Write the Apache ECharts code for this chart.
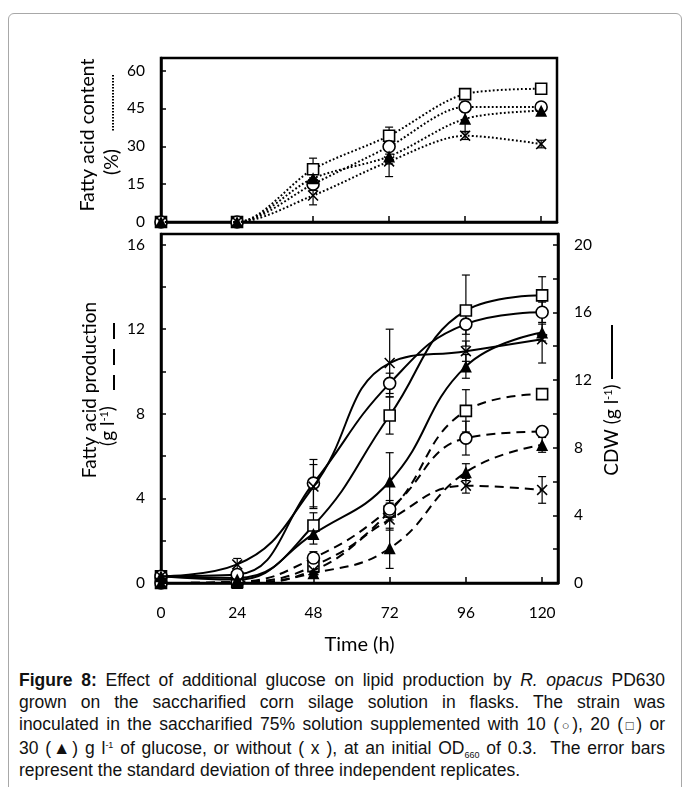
<!DOCTYPE html>
<html>
<head>
<meta charset="utf-8">
<script src="https://cdn.jsdelivr.net/npm/echarts@6/dist/echarts.min.js"></script>
<style>
  html, body { margin:0; padding:0; background:#fff; width:683px; height:787px; overflow:hidden; }
  #frame { position:absolute; left:8px; top:13px; width:674px; height:820px; box-sizing:border-box;
           border:1px solid #a8a8a8; border-radius:6px; }
  #chart { position:absolute; left:0; top:0; width:683px; height:660px; }
  #cap { position:absolute; left:19px; top:669px; width:646px; font-family:'Liberation Sans', Arial, sans-serif;
         font-size:17.5px; line-height:22px; color:#111; }
  #cap .j { text-align:justify; text-align-last:justify; }
  #cap sup, #cap sub { font-size:9px; line-height:0; }
  #cap sup { vertical-align:6px; }
  #cap sub { vertical-align:-4px; }
  #cap .sm { font-size:13px; }
</style>
</head>
<body>
<div id="frame"></div>
<div id="chart"></div>
<div id="cap">
  <div class="j"><b>Figure 8:</b> Effect of additional glucose on lipid production by <i>R. opacus</i> PD630</div>
  <div class="j">grown on the saccharified corn silage solution in flasks. The strain was</div>
  <div class="j">inoculated in the saccharified 75% solution supplemented with 10 (<span class="sm">○</span>), 20 (<span class="sm">□</span>) or</div>
  <div class="j">30 (▲) g l<sup>-1</sup> of glucose, or without ( x ), at an initial OD<sub>660</sub> of 0.3.&nbsp; The error bars</div>
  <div>represent the standard deviation of three independent replicates.</div>
</div>
<script>
// ---------------- data ----------------
const times = [0, 24, 48, 72, 96, 120];
const xTicks = [0, 24, 48, 72, 96, 120];

// Fatty acid content (%) – top panel
const content10 = [0, 0, 15.0, 29.9, 45.6, 45.6];
const content20 = [0, 0, 20.9, 34.2, 50.7, 52.8];
const content30 = [0, 0, 17.3, 26.0, 40.9, 44.1];
const content0  = [0, 0, 10.5, 24.0, 34.2, 30.9];
const contentErr10 = [0, 0, 2.5, 3.0, 2.0, 1.5];
const contentErr20 = [0, 0, 4.4, 3.4, 2.0, 1.0];
const contentErr30 = [0, 0, 2.0, 3.0, 5.0, 1.5];
const contentErr0  = [0, 0, 3.7, 6.0, 1.5, 1.5];

// CDW (g/l) – bottom panel, right axis, solid lines
const cdw10 = [0.4, 0.5, 5.9, 11.8, 15.3, 16.0];
const cdw20 = [0.4, 0.3, 3.4, 9.9, 16.1, 17.0];
const cdw30 = [0.4, 0.2, 2.9, 6.0, 12.8, 14.8];
const cdw0  = [0.4, 1.1, 5.7, 13.0, 13.7, 14.4];
const cdwErr10 = [0.1, 0.2, 1.4, 0.6, 0.6, 0.6];
const cdwErr20 = [0.1, 0.2, 0.75, 1.1, 2.1, 1.1];
const cdwErr30 = [0.1, 0.1, 0.6, 1.7, 0.7, 0.5];
const cdwErr0  = [0.1, 0.35, 1.3, 2.0, 0.6, 1.4];

// Fatty acid production (g/l) – bottom panel, left axis, dashed lines
const prod10 = [0, 0.05, 1.18, 3.5, 6.85, 7.16];
const prod20 = [0, 0.05, 0.8, 3.38, 8.14, 8.93];
const prod30 = [0, 0, 0.46, 1.64, 5.24, 6.53];
const prod0  = [0, 0, 0.6, 3.0, 4.6, 4.4];
const prodErr10 = [0, 0, 0.3, 0.4, 0.8, 0.15];
const prodErr20 = [0, 0, 0.3, 0.4, 1.0, 0.2];
const prodErr30 = [0, 0, 0.2, 0.95, 0.4, 0.35];
const prodErr0  = [0, 0, 0.2, 0.5, 0.35, 0.63];

const contentTicks = [0, 15, 30, 45, 60];
const prodTicks = [0, 4, 8, 12, 16];
const cdwTicks = [0, 4, 8, 12, 16, 20];

// ---------------- styles ----------------
const FONT = 'Lato';
const SYM = {
  circle:   { symbol: 'circle', size: 12, fill: '#fff', bw: 1.6 },
  square:   { symbol: 'rect', size: 11, fill: '#fff', bw: 1.6 },
  triangle: { symbol: 'triangle', size: 12, fill: '#000', bw: 0 },
  cross:    { symbol: 'path://M0,1L1,0L5,4L9,0L10,1L6,5L10,9L9,10L5,6L1,10L0,9L4,5Z', size: 11, fill: '#000', bw: 0 }
};

function pairs(vals) { return times.map((t, i) => [t, vals[i]]); }
function errRows(vals, errs) {
  const rows = [];
  times.forEach((t, i) => { if (errs[i] > 0) rows.push([t, vals[i] - errs[i], vals[i] + errs[i]]); });
  return rows;
}
function lineS(name, xi, yi, vals, sym, dash, width, smooth, z) {
  const s = SYM[sym];
  return {
    name, type: 'line', xAxisIndex: xi, yAxisIndex: yi, data: pairs(vals),
    symbol: s.symbol, symbolSize: s.size, showAllSymbol: true, smooth: smooth, z: z,
    lineStyle: { color: '#000', width: width, type: dash },
    itemStyle: { color: s.fill, borderColor: '#000', borderWidth: s.bw, opacity: 1 },
    emphasis: { disabled: true }, animation: false
  };
}
function errS(xi, yi, vals, errs) {
  return {
    type: 'custom', xAxisIndex: xi, yAxisIndex: yi, data: errRows(vals, errs), z: 1,
    encode: { x: 0, y: [1, 2] }, animation: false, silent: true,
    renderItem: function (params, api) {
      const x = api.value(0);
      const p1 = api.coord([x, api.value(1)]);
      const p2 = api.coord([x, api.value(2)]);
      const w = 4, st = { stroke: '#000', lineWidth: 1.2 };
      return { type: 'group', children: [
        { type: 'line', shape: { x1: p1[0], y1: p1[1], x2: p2[0], y2: p2[1] }, style: st },
        { type: 'line', shape: { x1: p1[0] - w, y1: p1[1], x2: p1[0] + w, y2: p1[1] }, style: st },
        { type: 'line', shape: { x1: p2[0] - w, y1: p2[1], x2: p2[0] + w, y2: p2[1] }, style: st }
      ]};
    }
  };
}

const axisLine = { show: true, lineStyle: { color: '#000', width: 2.5 } };
const tickStyle = (len) => ({ show: true, inside: true, length: len, lineStyle: { color: '#000', width: 1.5 } });
const lbl = (list, extra) => Object.assign({
  color: '#000', fontFamily: FONT, fontSize: 15.5, margin: 16,
  formatter: v => (list.indexOf(Math.round(v * 1000) / 1000) >= 0 ? String(v) : '')
}, extra || {});

const option = {
  backgroundColor: 'transparent',
  animation: false,
  grid: [
    { left: 161, top: 58, width: 396, height: 164, show: true, borderColor: '#000', borderWidth: 2.5, backgroundColor: 'transparent' },
    { left: 161, top: 234, width: 397, height: 349, show: true, borderColor: '#000', borderWidth: 2.5, backgroundColor: 'transparent' }
  ],
  xAxis: [
    { type: 'value', gridIndex: 0, min: 0, max: 125, interval: 24, axisLine, axisTick: tickStyle(6),
      axisLabel: { show: false }, splitLine: { show: false } },
    { type: 'value', gridIndex: 1, min: 0, max: 125, interval: 24, axisLine, axisTick: tickStyle(6),
      axisLabel: lbl(xTicks, { margin: 22 }), splitLine: { show: false },
      name: 'Time (h)', nameLocation: 'middle', nameGap: 52,
      nameTextStyle: { color: '#000', fontFamily: FONT, fontSize: 20 } }
  ],
  yAxis: [
    { type: 'value', gridIndex: 0, min: 0, max: 65, interval: 15, axisLine, axisTick: tickStyle(5),
      axisLabel: lbl(contentTicks), splitLine: { show: false } },
    { type: 'value', gridIndex: 1, min: 0, max: 16.5, interval: 2, axisLine, axisTick: tickStyle(5),
      axisLabel: lbl(prodTicks), splitLine: { show: false } },
    { type: 'value', gridIndex: 1, position: 'right', min: 0, max: 20.625, interval: 2, axisLine, axisTick: tickStyle(5),
      axisLabel: lbl(cdwTicks), splitLine: { show: false } }
  ],
  graphic: [
    { type: 'text', x: 88, y: 135, rotation: Math.PI / 2,
      style: { text: 'Fatty acid content', fontFamily: FONT, fontSize: 19.5, fill: '#000',
               align: 'center', verticalAlign: 'middle', textAlign: 'center', textVerticalAlign: 'middle' } },
    { type: 'text', x: 112, y: 162, rotation: Math.PI / 2,
      style: { text: '(%)', fontFamily: FONT, fontSize: 19.5, fill: '#000',
               align: 'center', verticalAlign: 'middle', textAlign: 'center', textVerticalAlign: 'middle' } },
    { type: 'line', shape: { x1: 113, y1: 75, x2: 113, y2: 132 },
      style: { stroke: '#000', lineWidth: 2, lineDash: [1.5, 1.5] } },

    { type: 'text', x: 90, y: 390, rotation: Math.PI / 2,
      style: { text: 'Fatty acid production', fontFamily: FONT, fontSize: 19, fill: '#000',
               align: 'center', verticalAlign: 'middle', textAlign: 'center', textVerticalAlign: 'middle' } },
    { type: 'text', x: 108, y: 426, rotation: Math.PI / 2,
      style: { text: '(g l{sup|-1})', fontFamily: FONT, fontSize: 19, fill: '#000',
               align: 'center', verticalAlign: 'middle', textAlign: 'center', textVerticalAlign: 'middle',
               rich: { sup: { fontFamily: FONT, fontSize: 11, fill: '#000', verticalAlign: 'top' } } } },
    { type: 'line', shape: { x1: 114, y1: 323, x2: 114, y2: 390 },
      style: { stroke: '#000', lineWidth: 2, lineDash: [16, 10] } },

    { type: 'text', x: 612, y: 430, rotation: Math.PI / 2,
      style: { text: 'CDW (g l{sup|-1})', fontFamily: FONT, fontSize: 19, fill: '#000',
               align: 'center', verticalAlign: 'middle', textAlign: 'center', textVerticalAlign: 'middle',
               rich: { sup: { fontFamily: FONT, fontSize: 11, fill: '#000', verticalAlign: 'top' } } } },
    { type: 'line', shape: { x1: 612, y1: 325, x2: 612, y2: 379 },
      style: { stroke: '#000', lineWidth: 2 } }
  ],
  series: [
    // top panel: fatty acid content, dotted
    errS(0, 0, content20, contentErr20),
    errS(0, 0, content10, contentErr10),
    errS(0, 0, content0, contentErr0),
    errS(0, 0, content30, contentErr30),
    lineS('content 20', 0, 0, content20, 'square', [1.8, 2.2], 2, 0.3, 3),
    lineS('content 10', 0, 0, content10, 'circle', [1.8, 2.2], 2, 0.3, 4),
    lineS('content 0', 0, 0, content0, 'cross', [1.8, 2.2], 2, 0.3, 5),
    lineS('content 30', 0, 0, content30, 'triangle', [1.8, 2.2], 2, 0.3, 6),

    // bottom panel: fatty acid production, dashed, left axis
    errS(1, 1, prod20, prodErr20),
    errS(1, 1, prod10, prodErr10),
    errS(1, 1, prod0, prodErr0),
    errS(1, 1, prod30, prodErr30),
    lineS('production 20', 1, 1, prod20, 'square', [9, 6], 2, 0.45, 3),
    lineS('production 10', 1, 1, prod10, 'circle', [9, 6], 2, 0.45, 4),
    lineS('production 0', 1, 1, prod0, 'cross', [9, 6], 2, 0.45, 5),
    lineS('production 30', 1, 1, prod30, 'triangle', [9, 6], 2, 0.45, 6),

    // bottom panel: CDW, solid, right axis
    errS(1, 2, cdw20, cdwErr20),
    errS(1, 2, cdw10, cdwErr10),
    errS(1, 2, cdw0, cdwErr0),
    errS(1, 2, cdw30, cdwErr30),
    lineS('CDW 20', 1, 2, cdw20, 'square', 'solid', 2, 0.45, 3),
    lineS('CDW 10', 1, 2, cdw10, 'circle', 'solid', 2, 0.45, 4),
    lineS('CDW 0', 1, 2, cdw0, 'cross', 'solid', 2, 0.45, 5),
    lineS('CDW 30', 1, 2, cdw30, 'triangle', 'solid', 2, 0.45, 6)
  ]
};

const chart = echarts.init(document.getElementById('chart'), null, { renderer: 'canvas' });
chart.setOption(option);
</script>
</body>
</html>
